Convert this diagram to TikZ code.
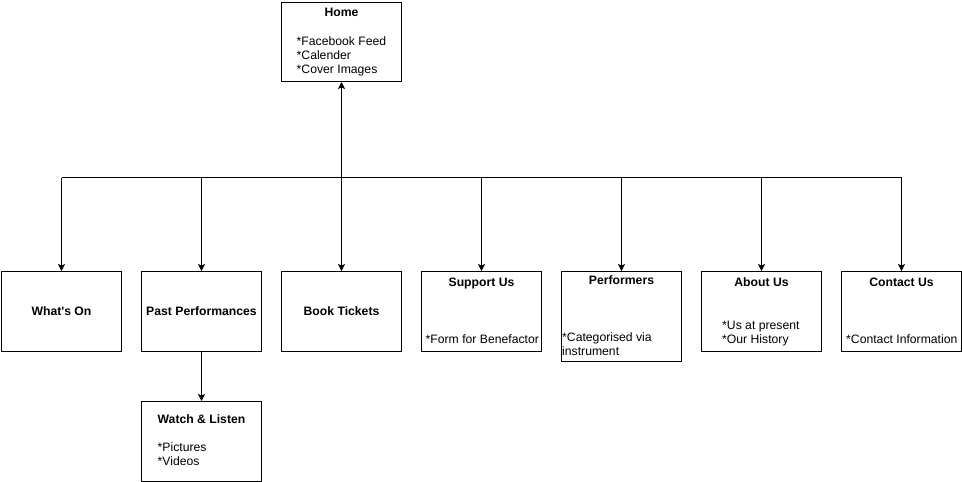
\documentclass[tikz,border=0pt]{standalone}
\usepackage{fontspec}
\setmainfont{Liberation Sans}
\usetikzlibrary{arrows.meta}
\begin{document}
\begin{tikzpicture}[x=1pt,y=-1pt,
  box/.style={draw=black,line width=1pt,fill=white},
  txt/.style={inner sep=0pt,font=\fontsize{12.2}{14}\selectfont},
  ttl/.style={txt,anchor=base,font=\fontsize{12.2}{14}\selectfont\bfseries},
  itm/.style={txt,anchor=base west},
  conn/.style={line width=1pt,-{Stealth[length=7pt,width=7pt,inset=1.5pt]}}]
\useasboundingbox[fill=white] (0,0) rectangle (962,482);
% boxes
\node[box,minimum width=120pt,minimum height=80pt,inner sep=0pt] (whats) at (61.5,311.5) {};
\node[box,minimum width=120pt,minimum height=80pt,inner sep=0pt] (past) at (201.5,311.5) {};
\node[box,minimum width=120pt,minimum height=80pt,inner sep=0pt] (book) at (341.5,311.5) {};
\node[box,minimum width=120pt,minimum height=80pt,inner sep=0pt] (support) at (481.5,311.5) {};
\node[box,minimum width=120pt,minimum height=90pt,inner sep=0pt] (perf) at (621.5,316.5) {};
\node[box,minimum width=120pt,minimum height=80pt,inner sep=0pt] (about) at (761.5,311.5) {};
\node[box,minimum width=120pt,minimum height=80pt,inner sep=0pt] (contact) at (901.5,311.5) {};
\node[box,minimum width=120pt,minimum height=80pt,inner sep=0pt] (watch) at (201.5,441.5) {};
\node[box,minimum width=120pt,minimum height=79pt,inner sep=0pt] (home) at (341.5,42) {};
% texts
\node[ttl] (tHome) at (341.5,16) {Home};
\node[itm] (h1) at (296.5,45) {*Facebook Feed};
\node[itm] (h2) at (296.5,59) {*Calender};
\node[itm] (h3) at (296.5,73) {*Cover Images};
\node[ttl] (tWhats) at (61.5,315) {What\textquotesingle s On};
\node[ttl] (tPast) at (201.5,315) {Past Performances};
\node[ttl] (tBook) at (341.5,315) {Book Tickets};
\node[ttl] (tSupport) at (481.5,286) {Support Us};
\node[itm] (s1) at (425.5,343) {*Form for Benefactor};
\node[ttl] (tPerf) at (621.5,284) {Performers};
\node[itm] (p1) at (562,341) {*Categorised via};
\node[itm] (p2) at (562,355) {instrument};
\node[ttl] (tAbout) at (761.5,286) {About Us};
\node[itm] (a1) at (722,329) {*Us at present};
\node[itm] (a2) at (722,343) {*Our History};
\node[ttl] (tContact) at (901.5,286) {Contact Us};
\node[itm] (c1) at (846,343) {*Contact Information};
\node[ttl] (tWatch) at (201.5,423) {Watch \& Listen};
\node[itm] (w1) at (157.5,451) {*Pictures};
\node[itm] (w2) at (157.5,465) {*Videos};
% connectors
\coordinate (busL) at (61.5,177.5);
\coordinate (busR) at (901.5,177.5);
\draw[line width=1pt] (busL) -- (busR);
\draw[conn] (busL) -- (whats.north);
\draw[conn] (201.5,177.5) -- (past.north);
\draw[conn] (481.5,177.5) -- (support.north);
\draw[conn] (621.5,177.5) -- (perf.north);
\draw[conn] (761.5,177.5) -- (about.north);
\draw[conn] (busR) -- (contact.north);
\draw[conn,{Stealth[length=7pt,width=7pt,inset=1.5pt]}-{Stealth[length=7pt,width=7pt,inset=1.5pt]}] (home.south) -- (book.north);
\draw[conn] (past.south) -- (watch.north);
\end{tikzpicture}
\end{document}
